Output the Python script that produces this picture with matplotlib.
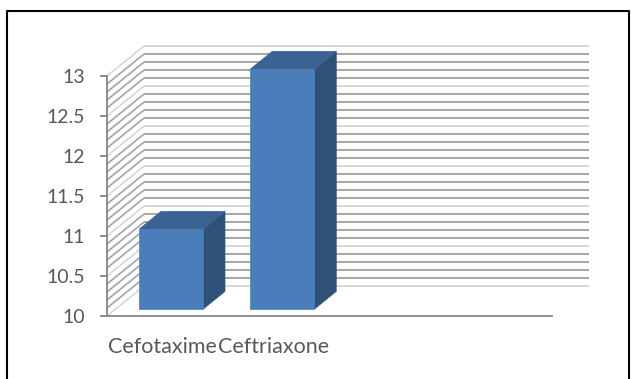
import matplotlib
matplotlib.use("Agg")
import matplotlib.pyplot as plt
from matplotlib.patches import Polygon
from matplotlib.lines import Line2D
import numpy as np

# chart data
drugs = ["Cefotaxime", "Ceftriaxone"]
zone_mm = [11, 13]

y_min, y_max = 10, 13
major_step = 0.5
minor_step = 0.1
n_slots = 4            # the category axis has room for four columns

# 3D look: offset of the back wall (in data units) and column depth range
depth_dx, depth_dy = 0.333, 0.375
bar_t0, bar_t1 = 0.23, 0.82
bar_width = 0.575

front_col = "#4A7EBB"
top_col = "#3B6392"
side_col = "#2F5077"
text_col = "#595959"
axis_col = "#868686"

plt.rcParams["font.family"] = ["Lato", "DejaVu Sans"]

fig = plt.figure(figsize=(6.31, 3.79), dpi=100)
ax = fig.add_axes([107 / 631, 63 / 379, 445 / 631, 240 / 379])
ax.set_xlim(0, n_slots)
ax.set_ylim(y_min, y_max)

# back wall and side wall gridlines
levels = np.round(np.arange(y_min, y_max + 1e-9, minor_step), 2)
for v in levels:
    is_major = abs(v / major_step - round(v / major_step)) < 1e-6
    c = "#D6D6D6" if is_major else "#A4A4A4"
    ax.plot([depth_dx, n_slots + depth_dx], [v + depth_dy, v + depth_dy],
            color=c, lw=1.4, clip_on=False, zorder=1, solid_capstyle="butt")
    ax.plot([0, depth_dx], [v, v + depth_dy],
            color=c, lw=1.2, clip_on=False, zorder=1, solid_capstyle="butt")

# columns
for i, val in enumerate(zone_mm):
    cx = i + 0.5
    x0, x1 = cx - bar_width / 2, cx + bar_width / 2
    fx, fy = bar_t0 * depth_dx, bar_t0 * depth_dy
    bx, by = bar_t1 * depth_dx, bar_t1 * depth_dy
    front = [(x0 + fx, y_min + fy), (x1 + fx, y_min + fy),
             (x1 + fx, val + fy), (x0 + fx, val + fy)]
    top = [(x0 + fx, val + fy), (x1 + fx, val + fy),
           (x1 + bx, val + by), (x0 + bx, val + by)]
    side = [(x1 + fx, y_min + fy), (x1 + bx, y_min + by),
            (x1 + bx, val + by), (x1 + fx, val + fy)]
    for pts, col in [(side, side_col), (top, top_col), (front, front_col)]:
        ax.add_patch(Polygon(pts, closed=True, facecolor=col, edgecolor=col,
                             lw=0.5, clip_on=False, zorder=3))

# axes styling
for s in ["top", "right"]:
    ax.spines[s].set_visible(False)
for s in ["left", "bottom"]:
    ax.spines[s].set_color(axis_col)
    ax.spines[s].set_linewidth(1.3)
    ax.spines[s].set_zorder(4)

ax.set_yticks(np.arange(y_min, y_max + 1e-9, major_step))
ax.set_yticklabels([f"{v:g}" for v in np.arange(y_min, y_max + 1e-9, major_step)])
ax.tick_params(axis="y", direction="out", length=5, width=1.3, color=axis_col,
               labelcolor=text_col, labelsize=14, pad=11)
ax.set_xticks([i + 0.5 for i in range(len(drugs))])
ax.set_xticklabels(drugs)
ax.tick_params(axis="x", length=0, labelcolor=text_col, labelsize=15.5, pad=15)
ax.patch.set_visible(False)

# outer chart frame
x0f, x1f = 6.5 / 631, 628.5 / 631
ytop = 1 - 10.5 / 379
fig.add_artist(Line2D([x0f, x0f, x1f, x1f], [0, ytop, ytop, 0],
                      transform=fig.transFigure, color="black", lw=1.5))

fig.savefig("out.png", dpi=100)
